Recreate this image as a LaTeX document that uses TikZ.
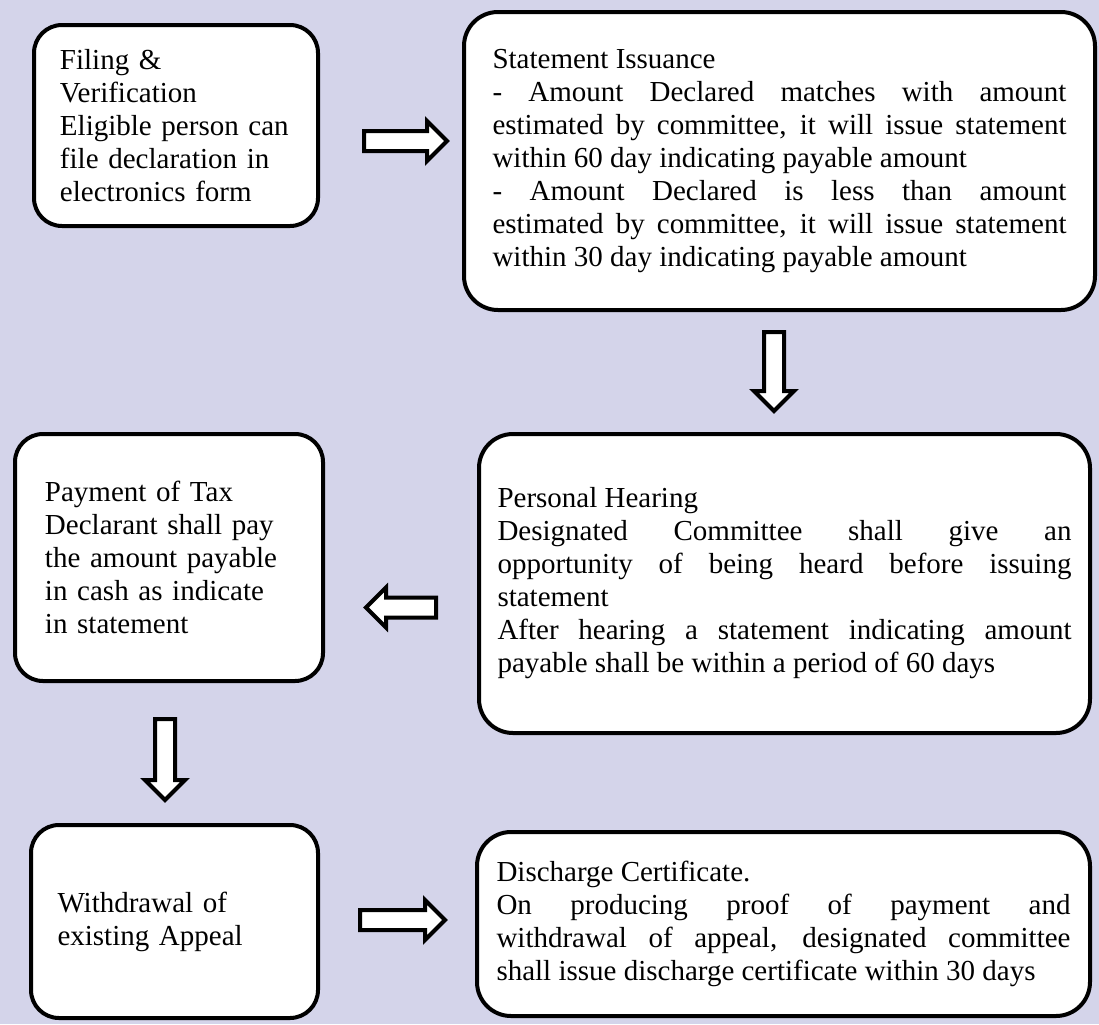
\documentclass[tikz,border=0pt]{standalone}
\usepackage{fontspec}
\setmainfont{Liberation Serif}
\usetikzlibrary{positioning}
\usetikzlibrary{shapes.arrows}
\definecolor{pagebg}{RGB}{212,212,234}

\begin{document}
\begin{tikzpicture}[x=0.5pt, y=-0.5pt,
                    every node/.style={font=\fontsize{14.5}{16.5}\selectfont},
                    stage/.style={draw, fill=white, line width=2pt, rounded corners=14pt, inner sep=0pt, align=left},
                    widestage/.style={stage, rounded corners=17pt, text width=287pt, align=justify},
                    flow/.style={single arrow, draw, fill=white, line width=2pt, inner sep=0pt,
                                 text width=8pt, text height=8pt, text depth=0pt, minimum width=0pt,
                                 single arrow head extend=5pt}]
            \fill[pagebg] (0,0) rectangle (1099,1024);
            % left column
            \node[stage, minimum width=142pt, minimum height=100.5pt, text width=116pt] (filing) at (176,125.5)
                {Filing \&\\ Verification\\ Eligible person can\\ file declaration in\\ electronics form};
            \node[stage, minimum width=154pt, minimum height=123.5pt, text width=124pt] (payment) at (169,557.5)
                {Payment of Tax\\ Declarant shall pay\\ the amount payable\\ in cash as indicate\\ in statement};
            \node[stage, minimum width=143.5pt, minimum height=96.5pt, text width=117pt] (withdraw) at (174.5,921.5)
                {Withdrawal of\\ existing Appeal};
            % right column
            \node[widestage, minimum width=315.5pt, minimum height=149pt] (issue) at (779.5,161)
                {Statement Issuance\\
                 - Amount Declared matches with amount\linebreak
                 estimated by committee, it will issue statement\linebreak
                 within 60 day indicating payable amount\\
                 - Amount Declared is less than amount\linebreak
                 estimated by committee, it will issue statement\linebreak
                 within 30 day indicating payable amount};
            \node[widestage, minimum width=305.5pt, minimum height=149.5pt] (hearing) at (784.5,583.5)
                {Personal Hearing\\
                 Designated Committee shall give an\linebreak
                 opportunity of being heard before issuing\linebreak
                 statement\\
                 After hearing a statement indicating amount\linebreak
                 payable shall be within a period of 60 days};
            \node[widestage, minimum width=306.5pt, minimum height=92pt] (discharge) at (783.5,924)
                {Discharge Certificate.\\
                 On producing proof of payment and\linebreak
                 withdrawal of appeal, designated committee\linebreak
                 shall issue discharge certificate within 30 days};
            % block arrows
            \node[flow, minimum height=41.5pt] (toissue) at (400.5,141) {};
            \node[flow, minimum height=39.5pt, shape border rotate=270] (tohearing) at (774,366.5) {};
            \node[flow, minimum height=35pt, shape border rotate=180] (topayment) at (406,607.5) {};
            \node[flow, minimum height=40.5pt, shape border rotate=270] (towithdraw) at (165,754.5) {};
            \node[flow, minimum height=42.5pt] (todischarge) at (397.5,920) {};
        \end{tikzpicture}
\end{document}
